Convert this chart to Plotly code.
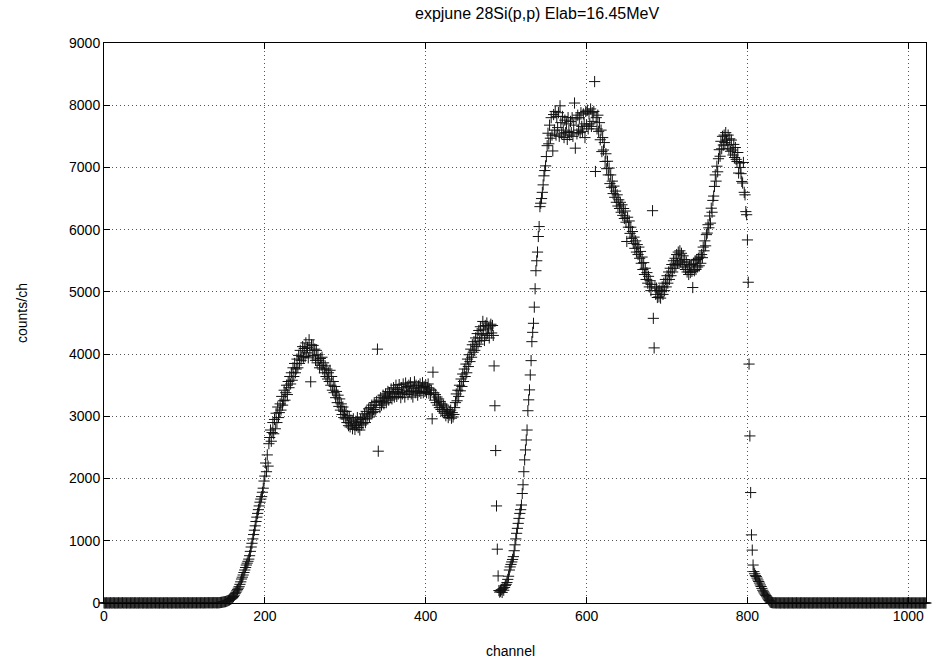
import plotly.graph_objects as go

title_text = "expjune 28Si(p,p) Elab=16.45MeV"
x_title = "channel"
y_title = "counts/ch"
x_tick_vals = [0, 200, 400, 600, 800, 1000]
y_tick_vals = [0, 1000, 2000, 3000, 4000, 5000, 6000, 7000, 8000, 9000]

# counts per channel, rows of 10 channels (channel 0 .. 1023)
counts_low = [
    2, 0, 1, 3, 0, 2, 1, 0, 4, 1,
    0, 2, 3, 1, 0, 1, 2, 0, 3, 1,
    1, 0, 2, 4, 1, 0, 3, 2, 0, 1,
    3, 1, 0, 2, 1, 4, 0, 1, 2, 3,
    0, 1, 2, 0, 3, 1, 2, 4, 0, 1,
    2, 3, 1, 0, 2, 1, 0, 3, 1, 2,
    1, 0, 4, 2, 1, 3, 0, 2, 1, 0,
    3, 2, 0, 1, 2, 0, 4, 1, 3, 2,
    0, 1, 3, 2, 0, 2, 1, 4, 2, 1,
    2, 0, 1, 3, 2, 1, 3, 0, 2, 4,
    1, 3, 2, 0, 4, 2, 1, 3, 2, 1,
    3, 2, 4, 1, 2, 3, 1, 4, 2, 3,
    2, 4, 3, 2, 1, 4, 3, 2, 5, 3,
    4, 3, 5, 2, 4, 3, 5, 4, 3, 6,
]
counts_peak1 = [
    2, 4, 3, 5, 6, 8, 10, 12, 15, 18,
    20, 22, 27, 32, 38, 44, 50, 58, 66, 75,
    88, 105, 125, 150, 172, 195, 215, 238, 262, 300,
    340, 385, 415, 450, 490, 530, 570, 610, 640, 670,
    705, 760, 830, 900, 960, 1030, 1100, 1170, 1240, 1310,
    1380, 1440, 1500, 1560, 1620, 1670, 1710, 1780, 1845, 1960,
    2040, 2250, 2110, 2380, 2200, 2560, 2660, 2780, 2600, 2740,
    2900, 2720, 2950, 2800, 3050, 2900, 3150, 2980, 3060, 3200,
    3100, 3320, 3180, 3250, 3420, 3260, 3380, 3500, 3350, 3560,
    3460, 3640, 3520, 3700, 3580, 3780, 3640, 3850, 3700, 3760,
    3920, 3780, 3980, 3850, 4060, 3900, 3960, 4120, 3950, 4090,
    3960, 4180, 4020, 4110, 3940, 4230, 4060, 3555, 4150, 3970,
    4140, 3980, 4080, 3900, 4060, 3860, 3990, 3900, 3780, 3930,
    3820, 3950, 3760, 3860, 3700, 3810, 3640, 3760, 3600, 3700,
    3560, 3740, 3500, 3640, 3420, 3560, 3380, 3480, 3300, 3400,
    3220, 3340, 3160, 3280, 3100, 3200, 3030, 3150, 2980, 3080,
    2960, 3080, 2900, 3010, 2850, 2980, 2830, 2940, 2880, 2800,
    2960, 2860, 2790, 2920, 2850, 2980, 2820, 2900, 2780, 2950,
    2860, 2990, 2880, 2960, 3040, 2900, 3080, 2960, 3020, 3120,
    2990, 3140, 3040, 3180, 3060, 3110, 3220, 3080, 3180, 3240,
    4080, 2440, 3260, 3140, 3300, 3180, 3240, 3340, 3200, 3290,
    3360, 3220, 3320, 3400, 3260, 3380, 3300, 3440, 3280, 3360,
    3460, 3310, 3400, 3500, 3320, 3430, 3360, 3510, 3380, 3300,
    3460, 3360, 3520, 3390, 3310, 3535, 3420, 3480, 3350, 3500,
    3400, 3540, 3360, 3470, 3310, 3450, 3555, 3380, 3500, 3420,
    3340, 3490, 3400, 3520, 3370, 3460, 3540, 3380, 3480, 3400,
    3500, 3380, 3460, 3520, 3370, 3440, 3350, 3420, 2960, 3710,
    3380, 3260, 3350, 3220, 3310, 3180, 3280, 3140, 3240, 3110,
    3200, 3080, 3180, 3050, 3150, 3010, 3110, 3050, 2980, 3080,
    3020, 3100, 2970, 3060, 2990, 3030, 3140, 3220, 3360, 3250,
    3420, 3320, 3500, 3410, 3600, 3480, 3680, 3560, 3760, 3640,
    3840, 3700, 3920, 3800, 3990, 3880, 4080, 3950, 4150, 4030,
    4200, 4060, 4260, 4120, 4330, 4160, 4380, 4210, 4440, 4260,
    4320, 4525, 4400, 4220, 4460, 4300, 4500, 4330, 4420, 4260,
    4450, 4480, 4340, 4460, 4300, 3810, 3170, 2450, 1560, 865,
]
counts_peak2 = [
    435, 200, 175, 190, 215, 170, 230, 205, 250, 280,
    300, 330, 380, 430, 530, 580, 620, 660, 700, 745,
    840, 935, 1030, 1120, 1200, 1280, 1360, 1440, 1500, 1575,
    1760, 1900, 2110, 2300, 2460, 2620, 2780, 3090, 3265, 3425,
    3665, 3895, 4200, 4350, 4495, 4755, 5050, 5340, 5500, 5640,
    5890, 6050, 6370, 6425, 6500, 6600, 6720, 6865, 6950, 7025,
    7175, 7350, 7550, 7380, 7680, 7470, 7800, 7520, 7265, 7850,
    7600, 7900, 7520, 7820, 7640, 7880, 7500, 7990, 7720, 7540,
    7820, 7600, 7480, 7760, 7560, 7700, 7450, 7800, 7580, 7520,
    7740, 7560, 7800, 7500, 7680, 8035, 7310, 7780, 7540, 7840,
    7600, 7800, 7560, 7880, 7660, 7580, 7860, 7700, 7480, 7900,
    7680, 7920, 7620, 7860, 7700, 7940, 7660, 7880, 7740, 7900,
    8380, 6935, 7800, 7620, 7840, 7580, 7720, 7445, 7600, 7255,
    7480, 7280, 7400, 7095, 7220, 6980, 7100, 6880, 6990, 6740,
    6880, 6680, 6780, 6580, 6700, 6520, 6620, 6440, 6560, 6380,
    6480, 6340, 6440, 6280, 6400, 6230, 6340, 6180, 6300, 6120,
    5810, 6200, 6040, 6140, 5940, 6040, 5860, 5970, 5780, 5880,
    5700, 5820, 5640, 5760, 5600, 5720, 5540, 5650, 5460, 5560,
    5360, 5470, 5280, 5380, 5200, 5310, 5140, 5250, 5080, 5180,
    5020, 5120, 6305, 4575, 4100, 5080, 4960, 5060, 4910, 5020,
    4920, 5030, 4900, 5010, 5080, 4960, 5140, 5020, 5200, 5080,
    5260, 5140, 5320, 5200, 5380, 5260, 5440, 5320, 5500, 5380,
    5540, 5420, 5600, 5460, 5640, 5500, 5660, 5480, 5620, 5440,
    5580, 5400, 5520, 5360, 5480, 5320, 5440, 5280, 5420, 5310,
    5440, 5330, 5070, 5460, 5340, 5500, 5360, 5520, 5400, 5540,
    5420, 5560, 5460, 5600, 5550, 5720, 5660, 5820, 5740, 5920,
    5945, 6080, 6030, 6220, 6105, 6345, 6280, 6470, 6540, 6695,
    6880, 6780, 7020, 6930, 7140, 7285, 7180, 7420, 7300, 7500,
    7360, 7520, 7400, 7560, 7440, 7360, 7520, 7300, 7460, 7260,
    7440, 7280, 7200, 7370, 7160, 7320, 7130, 7095, 7240, 6910,
    7070, 7000, 6900, 6775, 6750, 7080, 6600, 6560, 6290, 6240,
    5835, 5155, 3840, 2685, 1775, 1095, 850, 610, 505, 470,
    440, 425, 400, 370, 345, 320, 290, 265, 235, 205,
    180, 160, 140, 120, 100, 80, 60, 40, 20, 12,
]
counts_high = [
    8, 5, 3, 4, 2, 3, 1, 2, 3, 1,
    2, 0, 1, 3, 2, 1, 0, 2, 1, 3,
    0, 2, 1, 0, 3, 1, 2, 0, 1, 2,
    1, 3, 0, 2, 1, 0, 2, 3, 1, 0,
    2, 1, 0, 3, 1, 2, 0, 1, 2, 0,
    1, 0, 2, 1, 3, 0, 1, 2, 0, 1,
    3, 1, 0, 2, 0, 1, 2, 0, 1, 3,
    0, 2, 1, 0, 1, 2, 0, 3, 1, 0,
    1, 0, 2, 1, 0, 3, 1, 0, 2, 1,
    0, 1, 0, 2, 1, 0, 1, 2, 0, 1,
    2, 0, 1, 0, 3, 1, 0, 1, 2, 0,
    1, 2, 0, 1, 0, 2, 1, 0, 1, 0,
    0, 1, 2, 0, 1, 0, 2, 1, 0, 1,
    1, 0, 1, 2, 0, 1, 0, 1, 2, 0,
    0, 2, 1, 0, 1, 0, 1, 0, 2, 1,
    1, 0, 0, 1, 2, 0, 1, 0, 1, 0,
    0, 1, 0, 2, 0, 1, 0, 1, 0, 2,
    1, 0, 1, 0, 0, 1, 2, 0, 1, 0,
    0, 1, 0, 1, 0, 0, 1, 0, 2, 0,
    1, 0, 0, 1,
]

counts = counts_low + counts_peak1 + counts_peak2 + counts_high
channels = list(range(len(counts)))

font_family = "Liberation Sans, Arial, sans-serif"
txt_font = dict(family=font_family, size=14, color="black")

fig = go.Figure()
fig.add_trace(go.Scatter(
    x=channels, y=counts, mode="markers",
    marker=dict(symbol="cross-thin", size=8, color="#111",
                line=dict(width=1, color="#111")),
    cliponaxis=False, showlegend=False,
))

axis_common = dict(
    showline=True, linecolor="black", linewidth=1, mirror="allticks",
    ticks="inside", ticklen=6, tickcolor="black", tickwidth=1,
    showgrid=True, gridcolor="#555", gridwidth=1, griddash="1px,3px",
    zeroline=False, tickfont=txt_font,
)

fig.update_xaxes(range=[0, 1022], tickvals=x_tick_vals, **axis_common)
fig.update_yaxes(range=[0, 9000], tickvals=y_tick_vals, **axis_common)

fig.add_annotation(text=y_title, textangle=-90, xref="paper", yref="paper",
                   x=(22 - 104) / 822, y=(603 - 313) / 560,
                   xanchor="center", yanchor="middle", showarrow=False,
                   font=txt_font)
fig.add_annotation(text=x_title, xref="paper", yref="paper",
                   x=(510 - 104) / 822, y=(603 - 651) / 560,
                   xanchor="center", yanchor="middle", showarrow=False,
                   font=txt_font)
fig.add_annotation(text=title_text, xref="paper", yref="paper",
                   x=(537 - 104) / 822, y=(603 - 14) / 560,
                   xanchor="center", yanchor="middle", showarrow=False,
                   font=dict(family=font_family, size=16, color="black"))

fig.update_layout(
    width=934, height=664,
    margin=dict(l=104, r=8, t=43, b=61),
    paper_bgcolor="white", plot_bgcolor="white",
    font=txt_font,
)

fig.write_html("out.html")
